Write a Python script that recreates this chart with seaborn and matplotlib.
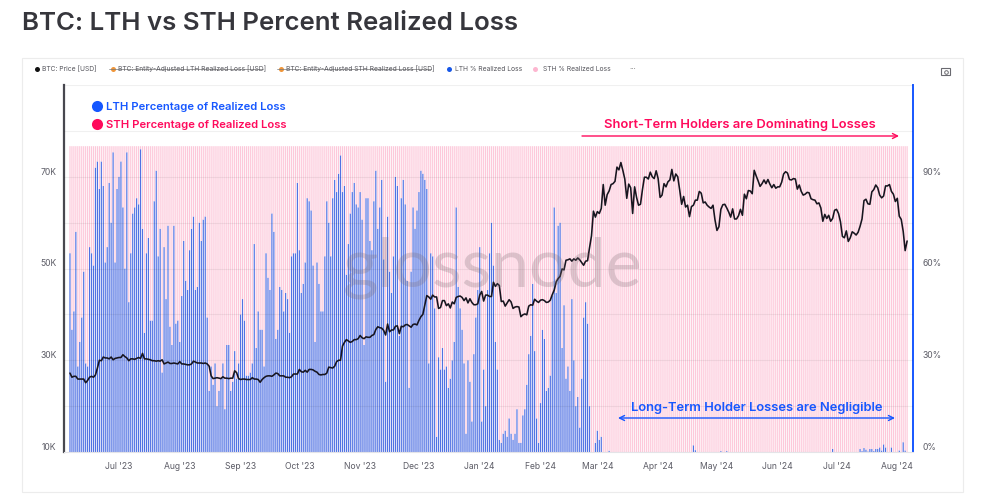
import numpy as np
import pandas as pd
import seaborn as sns
import matplotlib.pyplot as plt
import matplotlib.dates as mdates
from matplotlib.lines import Line2D
from matplotlib.patches import Rectangle

# BTC price in thousands of USD, one row per month, starts 6 Jun 2023
price_2023_06 = [27.2,26.3,26.5,26.5,25.9,25.9,25.9,25.9,25.1,25.6,26.3,26.5,26.3,26.8,28.3,30.0,29.9,30.7,30.5,30.5,30.3,30.7,30.1,30.4,30.5]
price_2023_07 = [30.6,30.6,31.2,30.8,30.5,29.9,30.3,30.3,30.2,30.4,30.6,30.4,31.5,30.3,30.3,30.2,30.1,29.9,29.9,29.8,29.9,29.8,30.1,29.2,29.4,29.6,29.3,29.3,29.4,29.3,29.2]
price_2023_08 = [29.7,29.2,29.2,29.1,29.0,29.0,29.2,29.8,29.6,29.4,29.4,29.4,29.3,29.4,29.2,28.7,26.6,26.0,26.1,26.2,26.1,26.0,26.4,26.1,26.1,26.0,26.1,26.1,27.7,27.3,26.0]
price_2023_09 = [25.8,25.9,25.9,25.8,25.8,25.8,26.2,25.9,25.9,25.8,25.2,25.8,26.2,26.5,26.6,26.6,26.5,26.8,27.2,27.1,26.6,26.6,26.6,26.3,26.3,26.2,26.4,27.0,27.0,27.0]
price_2023_10 = [28.0,27.5,27.4,27.8,27.4,28.0,28.0,27.9,27.6,27.4,26.9,26.8,26.9,26.9,27.2,28.5,28.4,28.3,28.7,29.7,30.0,30.0,33.1,33.9,34.5,34.2,33.9,34.1,34.5,34.5,34.7]
price_2023_11 = [35.4,34.9,34.7,35.1,35.0,35.0,35.4,35.6,36.7,37.3,37.1,37.0,36.5,35.5,37.9,36.2,36.6,36.6,37.4,37.5,35.8,37.4,37.3,37.7,37.8,37.5,37.2,37.8,37.9,37.7]
price_2023_12 = [38.7,39.5,40.0,42.0,44.1,43.8,43.3,44.2,43.8,43.8,41.3,41.5,43.0,43.0,41.9,42.3,41.4,42.7,42.3,43.7,43.9,44.0,43.7,43.0,43.6,42.5,43.4,42.6,42.1,42.1,42.3]
price_2024_01 = [44.2,45.0,42.9,44.2,44.2,43.9,43.9,47.0,46.1,46.7,46.3,42.8,42.9,41.8,42.5,43.2,42.7,41.3,41.6,41.7,41.6,39.5,39.9,40.1,39.9,41.8,42.1,42.0,43.3,42.9,42.6]
price_2024_02 = [43.1,43.2,43.0,42.6,42.7,43.1,44.3,45.3,47.1,47.8,48.3,49.9,49.7,51.8,51.9,52.1,51.6,52.1,51.8,52.3,51.9,51.3,50.7,51.6,51.7,54.5,57.1,62.5,61.2]
price_2024_03 = [62.4,62.0,63.1,68.3,63.8,66.1,66.9,68.3,68.5,69.0,72.1,71.5,73.1,71.4,69.5,65.3,68.4,67.6,62.0,67.8,65.5,63.8,64.0,67.2,69.9,69.9,69.5,71.0,70.0,69.6,71.3]
price_2024_04 = [69.6,65.5,66.0,68.5,67.8,68.9,69.3,71.6,69.1,70.6,70.0,67.1,64.0,65.7,63.4,63.8,61.3,63.5,63.8,64.9,64.9,66.8,66.4,64.3,64.5,63.8,63.4,63.1,63.8,60.6]
price_2024_05 = [58.3,59.1,62.9,63.9,64.0,63.2,62.3,61.2,63.0,60.8,60.8,61.5,62.9,61.6,66.2,65.2,67.0,66.9,66.3,71.4,70.2,69.1,67.9,68.5,69.3,68.5,69.4,68.4,67.6,68.3,67.5]
price_2024_06 = [67.8,67.8,68.8,70.6,71.1,70.8,69.4,69.3,69.6,69.5,67.3,68.2,66.8,66.0,66.2,66.6,66.5,65.2,65.0,64.9,64.1,64.3,63.2,60.3,61.8,60.9,61.6,60.3,60.9,62.7]
price_2024_07 = [62.9,62.0,60.2,57.0,56.7,58.2,55.9,56.7,58.0,57.7,57.3,57.9,59.2,60.8,64.8,65.1,64.1,64.0,66.7,67.2,68.2,67.6,66.0,65.4,65.8,68.0,68.0,68.3,66.8,66.2,64.6]
price_2024_08 = [65.3,61.4,60.7,58.1,53.9,56.0]

# LTH share of realized loss in percent
lth_part1 = [65,40,46,72,28,36,44,59,29,28,
             67,65,61,93,95,86,95,87,62,67,
             88,75,98,62,86,90,95,80,60,98,
             49,65,78,80,83,81,99,73,39,65,
             70,43,43,82,92,64,73,26,67,50,
             74,41,35,74,42,43,36,51,69,56,
             53,66,73,77,53,54,75,69,76,77,
             44,20,28,22,29,15,20,24,29,14,
             35,35,20,23,33,24,29,45,50,43,
             25,25,26,29,68,34]
lth_part2 = [46,40,40,28,65,57,53,78,72,37,
             40,54,53,46,52,50,39,64,65,65,88,
             66,52,55,62,83,82,79,61,36,62,
             55,46,46,64,82,75,64,83,89,85,
             91,97,85,87,58,68,78,85,88,81,80,
             85,76,35,83,83,69,66,82,92,73,
             80,89,63,23,77,59,52,64,90,87,
             38,83,89,81,56,21,59,80,73,79,
             85,92,91,89,86,29,65,64,47,5]
lth_part3 = [31,27,34,27,28,21,24,30,36,80,54,
             47,40,29,6,30,23,10,32,44,53,
             67,10,27,15,53,65,75,61,36,27,
             4,3,6,7,5,11,6,4,6,14,
             3,3,12,14,22,32,38,55,33,11,
             3,16,40,37,20,21,25,51,80,52,
             74,75,34,48,24,28,20,50,30,15,
             18,8,24,44,49,42,15,0,0,3,7,
             4,5]
lth_part4 = [0,0,0,0.4,0,0,0,0,0,0,
             0,0,0,0,0,0,0,0,0,0,
             0,0,0,0,0,0,0,0,0,0,
             0,0,0,0,0,0,0,0,0,0,
             0,0,0,0,0,0,2.2,0.6,0,0,
             0,0,0,0,0,0,0,0,0,0,
             0.3,0,0,0.3,0,0,0,0,0,0,
             0,0,0,0,0,0,0,0,0,0,
             0,0,0,0,0,0,0,0,0,0,
             0,0,0,0,0,0,0,0,0,0,
             0,0,0,0,0,0,0,0,0,0,
             0,0,0,0,0,0,0,1.0,0,0,
             0,0,0,0,0,0,0,0,0,0,
             0,1.0,0.3,1.3,0.8,0.2,1.0,1.0,0.3,1.0,
             1.0,1.5,0.5,2.5,1.5,0,0,1.5,0,0,
             0,0.5,0,3.2,0.5,0]

x_ticks = ["2023-07-01","2023-08-01","2023-09-01","2023-10-01","2023-11-01","2023-12-01","2024-01-01",
           "2024-02-01","2024-03-01","2024-04-01","2024-05-01","2024-06-01","2024-07-01","2024-08-01"]
x_labels = ["Jul '23","Aug '23","Sep '23","Oct '23","Nov '23","Dec '23","Jan '24",
            "Feb '24","Mar '24","Apr '24","May '24","Jun '24","Jul '24","Aug '24"]
price_ticks = [10, 30, 50, 70]
pct_ticks = [0, 30, 60, 90]
pct_labels = ["0%", "30%", "60%", "90%"]

price = (price_2023_06 + price_2023_07 + price_2023_08 + price_2023_09 + price_2023_10 + price_2023_11
         + price_2023_12 + price_2024_01 + price_2024_02 + price_2024_03 + price_2024_04 + price_2024_05
         + price_2024_06 + price_2024_07 + price_2024_08)
lth = lth_part1 + lth_part2 + lth_part3 + lth_part4

dates = pd.date_range("2023-06-06", periods=len(price), freq="D")
df = pd.DataFrame({"day": mdates.date2num(dates), "price": price, "lth": lth})
df["sth"] = 100 - df["lth"]

sns.set_theme(style="white")
plt.rcParams["font.family"] = ["Inter", "DejaVu Sans"]

BLUE = "#1657ff"
RED = "#ff0a5c"
GREY = "#5c5c66"

fig = plt.figure(figsize=(9.84, 5.0), dpi=100, facecolor="white")


def fx(x):
    return x / 984


def fy(y):
    return 1 - y / 500


# chart panel
fig.add_artist(Rectangle((fx(22), fy(492)), 941 / 984, 434 / 500, transform=fig.transFigure,
                         facecolor="white", edgecolor="#ececec", lw=0.8, zorder=-1))
fig.text(fx(22), fy(23), "BTC: LTH vs STH Percent Realized Loss", fontsize=18.6, fontweight="semibold",
         color="#36363c", va="center", ha="left")

ax = fig.add_axes([fx(63.5), fy(452), 849.5 / 984, 367 / 500])
ax.patch.set_alpha(0)
sns.barplot(data=df, x="day", y="lth", native_scale=True, errorbar=None, color="#5071e3",
            saturation=1, width=0.6, linewidth=0, ax=ax)
sns.barplot(data=df, x="day", y="sth", native_scale=True, errorbar=None, color="#fdc8da",
            saturation=1, width=0.6, linewidth=0, bottom=df["lth"].values, ax=ax)
# no pixel snapping, the thin bars should blend like the web chart
for bar in ax.patches:
    bar.set_snap(False)
ax.set_ylim(0, 120)
ax.set_xlim(mdates.date2num(pd.Timestamp("2023-07-01")) - 28.3, mdates.date2num(pd.Timestamp("2024-08-01")) + 8)
ax.set_xlabel("")
ax.set_ylabel("")
ax.set_xticks(mdates.date2num(pd.to_datetime(x_ticks)))
ax.set_xticklabels(x_labels, fontsize=6.2, color=GREY)
ax.tick_params(axis="x", length=2.5, width=0.6, color="#dddddd", pad=5)

ax2 = ax.twinx()
ax.yaxis.tick_right()
ax.set_yticks(pct_ticks)
ax.set_yticklabels(pct_labels, fontsize=6.2, color=GREY, va="bottom")
ax.tick_params(axis="y", length=0, pad=7)

sns.lineplot(data=df, x="day", y="price", color="#17151f", linewidth=1.15, estimator=None, ax=ax2)
ax2.yaxis.tick_left()
ax2.set_ylim(10, 90)
ax2.set_xlabel("")
ax2.set_ylabel("")
ax2.set_yticks(np.arange(10, 91, 10))
ax2.set_yticklabels([f"{v}K" if v in price_ticks else "" for v in range(10, 91, 10)],
                    fontsize=6.2, color=GREY, va="bottom")
ax2.tick_params(axis="y", length=0, pad=5)
ax2.grid(axis="y", color="#000000", alpha=0.06, lw=0.8)
ax2.set_axisbelow(False)
ax2.get_lines()[-1].set_zorder(5)

for a in (ax, ax2):
    for side in ("top", "left", "right", "bottom"):
        a.spines[side].set_visible(False)
ax2.spines["left"].set_visible(True)
ax2.spines["left"].set_color("#48484f")
ax2.spines["left"].set_linewidth(1.6)
ax2.spines["right"].set_visible(True)
ax2.spines["right"].set_color(BLUE)
ax2.spines["right"].set_linewidth(1.4)
ax2.spines["bottom"].set_visible(True)
ax2.spines["bottom"].set_color("#e4e4e8")
ax2.spines["bottom"].set_linewidth(0.8)

# watermark
fig.text(fx(493), fy(268), "glossnode", fontsize=49, family="Lato", color="#7d6b72",
         alpha=0.26, ha="center", va="center")

# top legend row
legend_items = [(37, 42, "BTC: Price [USD]", "#111111", False),
                (113, 118, "BTC: Entity-Adjusted LTH Realized Loss [USD]", "#f0963a", True),
                (281, 286, "BTC: Entity-Adjusted STH Realized Loss [USD]", "#f0963a", True),
                (449, 455, "LTH % Realized Loss", "#1657e8", False),
                (535, 543, "STH % Realized Loss", "#fdb6d0", False)]
for dot_x, text_x, label, col, struck in legend_items:
    fig.add_artist(Line2D([fx(dot_x)], [fy(69)], marker="o", ms=3.6, color=col, mew=0, transform=fig.transFigure))
    fig.text(fx(text_x), fy(69), label, fontsize=4.8, color="#55555c", va="center", ha="left")
    if struck:
        fig.add_artist(Line2D([fx(dot_x - 4), fx(text_x + 145)], [fy(69), fy(69)], color="#777777", lw=0.5,
                              transform=fig.transFigure))
fig.text(fx(633), fy(69), "···", fontsize=5.5, color="#777777", va="center", ha="center")

# camera icon
fig.add_artist(Rectangle((fx(941), fy(75)), 9 / 984, 7 / 500, transform=fig.transFigure, facecolor="none",
                         edgecolor="#6a6a70", lw=0.8))
fig.add_artist(Line2D([fx(945.5)], [fy(71.5)], marker="o", ms=2.6, mfc="none", mec="#6a6a70", mew=0.7,
                      transform=fig.transFigure))

# annotations
fig.add_artist(Line2D([fx(97)], [fy(106)], marker="o", ms=8, color=BLUE, mew=0, transform=fig.transFigure))
fig.add_artist(Line2D([fx(97)], [fy(124)], marker="o", ms=8, color=RED, mew=0, transform=fig.transFigure))
fig.text(fx(106), fy(107), "LTH Percentage of Realized Loss", fontsize=8.1, fontweight="semibold", color=BLUE,
         va="center", ha="left")
fig.text(fx(106), fy(125), "STH Percentage of Realized Loss", fontsize=8.1, fontweight="semibold", color=RED,
         va="center", ha="left")
fig.text(fx(604), fy(125), "Short-Term Holders are Dominating Losses", fontsize=9.35, fontweight="semibold",
         color=RED, va="center", ha="left")
fig.text(fx(631), fy(408), "Long-Term Holder Losses are Negligible", fontsize=9.3, fontweight="semibold",
         color=BLUE, va="center", ha="left")
ax2.annotate("", xy=(fx(899), fy(136)), xytext=(fx(582), fy(136)), xycoords="figure fraction",
             textcoords="figure fraction", annotation_clip=False,
             arrowprops=dict(arrowstyle="->", color=RED, lw=1.0, shrinkA=0, shrinkB=0, mutation_scale=9))
ax2.annotate("", xy=(fx(895), fy(418)), xytext=(fx(618), fy(418)), xycoords="figure fraction",
             textcoords="figure fraction", annotation_clip=False,
             arrowprops=dict(arrowstyle="<->", color=BLUE, lw=1.0, shrinkA=0, shrinkB=0, mutation_scale=9))

fig.savefig("out.png", dpi=100)
